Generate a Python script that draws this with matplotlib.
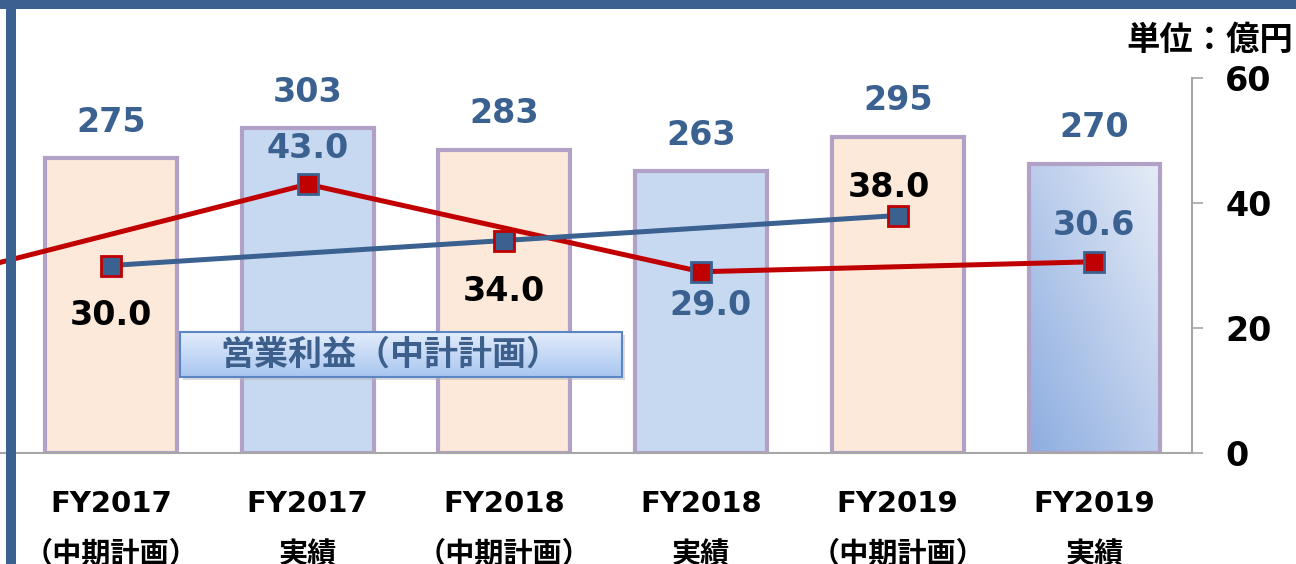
import numpy as np
import matplotlib
matplotlib.use("Agg")
import matplotlib.pyplot as plt
from matplotlib.patches import Rectangle
from matplotlib.colors import to_rgb

plt.rcParams['font.family'] = ['DejaVu Sans', 'Noto Sans CJK JP']
plt.rcParams['font.weight'] = 'bold'

# data
categories = ["FY2017\n（中期計画）", "FY2017\n実績", "FY2018\n（中期計画）",
              "FY2018\n実績", "FY2019\n（中期計画）", "FY2019\n実績"]
sales = [275, 303, 283, 263, 295, 270]            # bars, 億円
plan_x = [0, 2, 4]
plan_profit = [30.0, 34.0, 38.0]                  # 営業利益（中計計画）
actual_x = [-1, 1, 3, 5]
actual_profit = [27.0, 43.0, 29.0, 30.6]          # 営業利益 実績 (first point = FY2016, off chart)
plan_bar = [True, False, True, False, True, False]

peach = "#fde9d9"
lightblue = "#c6d9f1"
edge = "#b2a1c7"
navy = "#3a6190"
red = "#c00000"

W, H = 1296, 564
fig = plt.figure(figsize=(W / 100, H / 100), dpi=100)
ax = fig.add_axes([0, (H - 453) / H, 1192 / W, (453 - 78) / H])
ax.patch.set_visible(False)

x = np.arange(len(sales))
bars = ax.bar(x, sales, width=0.67,
              color=[peach if p else lightblue for p in plan_bar],
              edgecolor=edge, linewidth=3, zorder=2)

# gradient fill on the last bar
last = bars[-1]
c1, c2 = np.array(to_rgb("#8dade0")), np.array(to_rgb("#e6ecf7"))
u = np.linspace(0, 1, 100)[None, :]
v = np.linspace(1, 0, 200)[:, None]
t = np.clip((u + v) / 2, 0, 1)
grad = c1 * (1 - t[..., None]) + c2 * t[..., None]
last.set_facecolor("none")
lx = last.get_x()
im = ax.imshow(grad, extent=(lx, lx + last.get_width(), 0, sales[-1]),
               aspect='auto', zorder=1.9, origin='upper')
im.set_clip_path(last)

ax.set_xlim(-0.564, 5.496)
ax.set_ylim(0, 350)
ax.set_yticks([])
for s in ["top", "right", "left"]:
    ax.spines[s].set_visible(False)
ax.spines["bottom"].set_color("#a6a6a6")
ax.spines["bottom"].set_linewidth(1.5)
ax.set_xticks(x)
ax.set_xticklabels(categories, fontsize=21, fontweight='bold', linespacing=2.0)
ax.tick_params(axis='x', length=0, pad=27)

for xi, val in zip(x, sales):
    ax.annotate(f"{val}", (xi, val), xytext=(0, 26), textcoords='offset points',
                ha='center', va='center', fontsize=24, fontweight='bold', color=navy)

ax2 = ax.twinx()
ax2.set_ylim(0, 60)
ax2.set_yticks([0, 20, 40, 60])
for s in ["top", "left", "bottom"]:
    ax2.spines[s].set_visible(False)
ax2.spines["right"].set_color("#a6a6a6")
ax2.spines["right"].set_linewidth(1.5)
ax2.tick_params(axis='y', length=8, width=1.2, color="#a6a6a6", pad=16, labelsize=24)
for lab in ax2.get_yticklabels():
    lab.set_fontweight('bold')

ax2.plot(actual_x, actual_profit, color=red, lw=3.6, marker='s', ms=14,
         mfc=red, mec=navy, mew=2, zorder=3, clip_on=True)
ax2.plot(plan_x, plan_profit, color=navy, lw=3.6, marker='s', ms=14,
         mfc=navy, mec=red, mew=2, zorder=4)

plan_offsets = [(0, -36), (0, -37), (-6, 20)]
actual_offsets = [(0, 26), (7, -24), (0, 26)]
for xi, val, off in zip(plan_x, plan_profit, plan_offsets):
    ax2.annotate(f"{val:.1f}", (xi, val), xytext=off, textcoords='offset points',
                 ha='center', va='center', fontsize=24, fontweight='bold', color='black')
for xi, val, off in zip(actual_x[1:], actual_profit[1:], actual_offsets):
    ax2.annotate(f"{val:.1f}", (xi, val), xytext=off, textcoords='offset points',
                 ha='center', va='center', fontsize=24, fontweight='bold', color=navy)

# overlay: frame, legend box, unit label
ov = fig.add_axes([0, 0, 1, 1], zorder=10)
ov.patch.set_visible(False)
ov.axis('off')

# legend box with gradient
b1, b2 = np.array(to_rgb("#e2ecfb")), np.array(to_rgb("#a9c6f0"))
tt = np.linspace(0, 1, 50)[:, None, None]
lg = b1 * (1 - tt) + b2 * tt
lg = np.repeat(lg, 2, axis=1)
ov.add_patch(Rectangle((183, 335), 442, 45, facecolor="#b8b8b8", alpha=0.5, lw=0, zorder=1))
ov.imshow(lg, extent=(180, 622, 377, 332), aspect='auto', origin='upper', zorder=2)
ov.add_patch(Rectangle((180, 332), 442, 45, facecolor='none', edgecolor="#5a86c4", lw=1.5, zorder=3))
ov.text(390, 355, "営業利益（中計計画）", ha='center', va='center', fontsize=24.5,
        fontweight='bold', color="#3d5f8c", zorder=4)

ov.text(1293, 40, "単位：億円", ha='right', va='center', fontsize=24,
        fontweight='bold', color='black')

ov.add_patch(Rectangle((0, 0), W, 9, facecolor=navy, lw=0, zorder=5))
ov.add_patch(Rectangle((6, 0), 10, H, facecolor=navy, lw=0, zorder=5))
ov.set_xlim(0, W)
ov.set_ylim(H, 0)

fig.savefig("out.png", dpi=100)
